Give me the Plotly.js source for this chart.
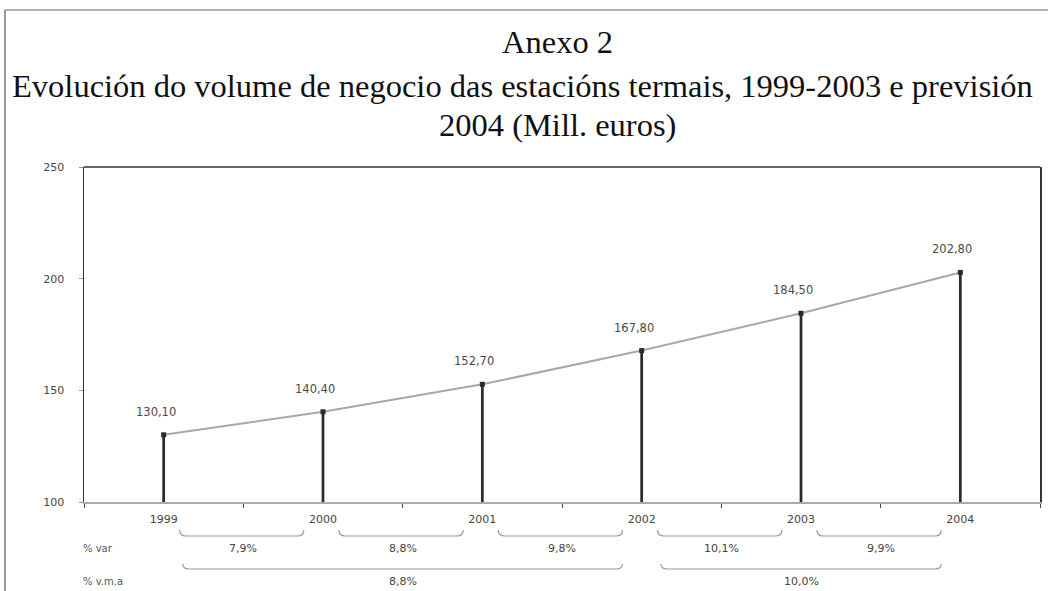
<!DOCTYPE html>
<html>
<head>
<meta charset="utf-8">
<script src="https://cdn.plot.ly/plotly-3.0.1.min.js"></script>
<style>html,body{margin:0;padding:0;background:#fff;}#chart{width:1048px;height:591px;}</style>
</head>
<body>
<div id="chart"></div>
<script>
const years = ['1999', '2000', '2001', '2002', '2003', '2004'];
const volume = [130.10, 140.40, 152.70, 167.80, 184.50, 202.80];
const varPct = [7.9, 8.8, 9.8, 10.1, 9.9];
const vmaPct = [8.8, 10.0];
const vmaSpans = [[0, 3], [3, 5]];
const yTicks = [100, 150, 200, 250];
const rowLabels = ['% var', '% v.m.a'];

const fmt = (v, d) => v.toFixed(d).replace('.', ',');
const sans = 'DejaVu Sans, Verdana, sans-serif';
const serif = 'Liberation Serif, Times New Roman, serif';
const py = p => (502 - p) / 335; // pixel row -> paper fraction for decorations
const px = p => (p - 84) / 956;  // pixel column -> paper fraction for decorations

const stems = {
  type: 'bar', x: years, y: volume, width: 0.017,
  marker: {color: '#2a2a2a', line: {width: 0}},
  hoverinfo: 'skip', showlegend: false
};
const line = {
  type: 'scatter', mode: 'lines+markers', x: years, y: volume,
  line: {color: '#a8a8a8', width: 2},
  marker: {symbol: 'square', size: 5, color: '#2a2a2a'},
  cliponaxis: false, showlegend: false
};

const shapes = [];
const annotations = [];
volume.forEach((v, i) => {
  annotations.push({xref: 'x', yref: 'y', x: i, y: v, text: fmt(v, 2), showarrow: false,
    xanchor: 'center', yanchor: 'bottom', xshift: -8, yshift: 14,
    font: {family: sans, size: 11.5, color: '#4a4a4a'}});
});
const bracket = (x0, x1, yTop, yBot) => ({
  type: 'path', xref: 'x', yref: 'paper',
  path: `M ${x0} ${yTop} Q ${x0} ${yBot} ${x0 + 0.04} ${yBot} L ${x1 - 0.04} ${yBot} Q ${x1} ${yBot} ${x1} ${yTop}`,
  line: {color: '#9a9a9a', width: 1.2}
});
varPct.forEach((p, i) => {
  shapes.push(bracket(i + 0.1, i + 0.88, py(530), py(536)));
  annotations.push({xref: 'x', yref: 'paper', x: i + 0.5, y: py(548), yanchor: 'middle', text: fmt(p, 1) + '%',
    showarrow: false, font: {family: sans, size: 11, color: '#444'}});
});
vmaPct.forEach((p, i) => {
  const [a, b] = vmaSpans[i];
  shapes.push(bracket(a + 0.12, b - 0.12, py(564), py(569)));
  annotations.push({xref: 'x', yref: 'paper', x: (a + b) / 2, y: py(581), yanchor: 'middle', text: fmt(p, 1) + '%',
    showarrow: false, font: {family: sans, size: 11, color: '#444'}});
});
rowLabels.forEach((t, i) => {
  annotations.push({xref: 'paper', yref: 'paper', x: -0.003, y: py([548, 581][i]), xanchor: 'left', yanchor: 'middle',
    text: t, showarrow: false, font: {family: sans, size: 10, color: '#555'}});
});
// titles
const titleLines = ['Anexo 2', 'Evolución do volume de negocio das estacións termais, 1999-2003 e previsión', '2004 (Mill. euros)'];
const titleRows = [42, 86, 125];
const titleCols = [557, 522, 557];
titleLines.forEach((t, i) => {
  annotations.push({xref: 'paper', yref: 'paper', x: px(titleCols[i]), y: py(titleRows[i]), xanchor: 'center', yanchor: 'middle',
    text: t, showarrow: false, font: {family: serif, size: 32.5, color: '#111'}});
});
// frame and plot top border
shapes.push({type: 'line', xref: 'paper', yref: 'paper', x0: 0, x1: 1, y0: 1, y1: 1, line: {color: '#333', width: 1.5}});
shapes.push({type: 'line', xref: 'paper', yref: 'paper', x0: px(5), x1: px(5), y0: py(10), y1: py(600), line: {color: '#555', width: 1.2}});
shapes.push({type: 'line', xref: 'paper', yref: 'paper', x0: px(5), x1: px(1048), y0: py(10), y1: py(10), line: {color: '#666', width: 1.2}});

const layout = {
  width: 1048, height: 591,
  margin: {l: 84, r: 8, t: 167, b: 89},
  paper_bgcolor: '#fff', plot_bgcolor: '#fff',
  showlegend: false,
  xaxis: {
    type: 'category', range: [-0.5, 5.5], showgrid: false, zeroline: false,
    showline: true, linecolor: '#aaa', linewidth: 2,
    ticks: 'outside', tickson: 'boundaries', ticklen: 4, tickcolor: '#444', tickwidth: 1,
    ticklabelstandoff: 6,
    tickfont: {family: sans, size: 11, color: '#444'}, fixedrange: true
  },
  yaxis: {
    range: [100, 250], tickvals: yTicks, ticktext: yTicks.map(String), showgrid: false, zeroline: false,
    showline: true, mirror: true, linecolor: '#333', linewidth: 1.5,
    ticks: 'outside', ticklen: 4, tickcolor: '#999', ticklabelstandoff: 12,
    tickfont: {family: sans, size: 11, color: '#444'}, fixedrange: true
  },
  shapes: shapes, annotations: annotations
};
Plotly.newPlot('chart', [stems, line], layout, {displayModeBar: false, staticPlot: true});
</script>
</body>
</html>
